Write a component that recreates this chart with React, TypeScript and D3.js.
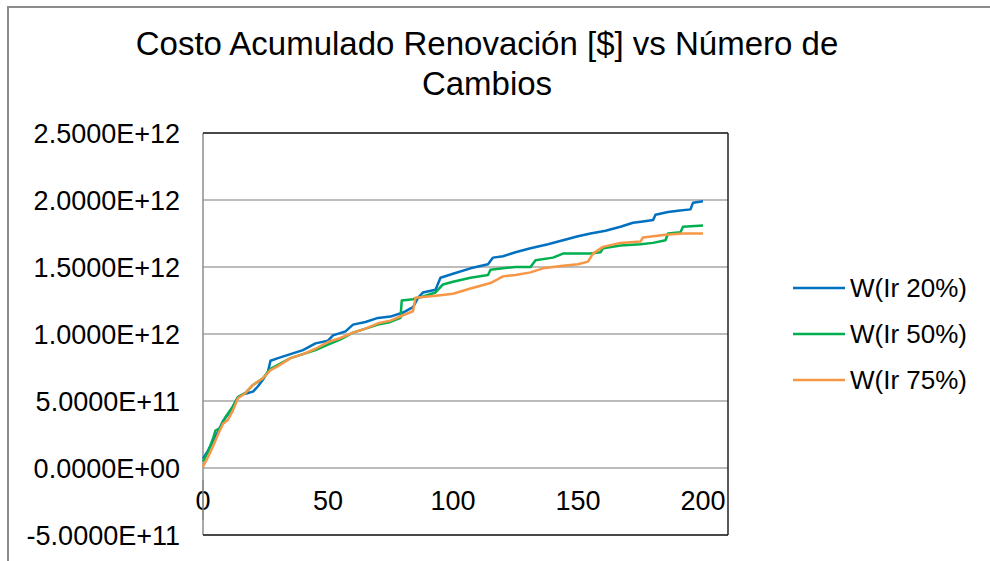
import React from "react";
import * as d3 from "d3";

const titleLines = ["Costo Acumulado Renovación [$] vs Número de", "Cambios"];
const yTicks = [-5e11, 0, 5e11, 1e12, 1.5e12, 2e12, 2.5e12];
const xTicks = [0, 50, 100, 150, 200];
const seriesNames = ["W(Ir 20%)", "W(Ir 50%)", "W(Ir 75%)"];
const seriesColors = ["#0070C0", "#00B050", "#F79646"];

// values in units of 1E11
const blue: [number, number][] = [
  [0, 0.7], [2, 1.3], [4, 2.0], [6, 2.7], [8, 3.5], [10, 4.0], [12, 4.6], [14, 5.3], [16, 5.5],
  [18, 5.6], [20, 5.7], [22, 6.1], [24, 6.6], [26, 7.2], [27, 8.0], [30, 8.2], [35, 8.5], [40, 8.8],
  [45, 9.3], [50, 9.5], [52, 9.9], [57, 10.2], [60, 10.7], [65, 10.9], [70, 11.2], [75, 11.3],
  [80, 11.6], [84, 12.0], [86, 12.7], [88, 13.1], [93, 13.3], [95, 14.2], [100, 14.5], [107, 14.9],
  [114, 15.2], [116, 15.7], [120, 15.8], [125, 16.1], [131, 16.4], [138, 16.7], [144, 17.0],
  [150, 17.3], [155, 17.5], [161, 17.7], [167, 18.0], [172, 18.3], [176, 18.4], [180, 18.5],
  [181, 18.9], [186, 19.1], [190, 19.2], [195, 19.3], [196, 19.8], [200, 19.9],
];
const green: [number, number][] = [
  [0, 0.5], [2, 1.2], [4, 2.2], [5, 2.8], [7, 3.0], [9, 3.8], [12, 4.6], [14, 5.3], [17, 5.6],
  [20, 6.2], [24, 6.7], [27, 7.4], [30, 7.7], [35, 8.2], [40, 8.5], [45, 8.8], [50, 9.2], [55, 9.6],
  [60, 10.1], [65, 10.4], [70, 10.7], [75, 10.9], [79, 11.2], [79.5, 12.5], [84, 12.6], [88, 12.8],
  [93, 13.1], [96, 13.7], [100, 13.9], [107, 14.2], [114, 14.4], [115, 14.8], [120, 14.9],
  [125, 15.0], [131, 15.0], [133, 15.5], [140, 15.7], [144, 16.0], [150, 16.0], [155, 16.0],
  [159, 16.1], [160, 16.4], [167, 16.6], [175, 16.7], [180, 16.8], [185, 17.0], [186, 17.5],
  [191, 17.6], [192, 18.0], [200, 18.1],
];
const orange: [number, number][] = [
  [0, 0.1], [2, 0.8], [4, 1.6], [6, 2.5], [8, 3.3], [10, 3.6], [12, 4.3], [14, 5.2], [17, 5.6],
  [20, 6.2], [24, 6.7], [27, 7.3], [30, 7.6], [35, 8.2], [40, 8.5], [45, 8.9], [50, 9.4], [55, 9.7],
  [60, 10.1], [65, 10.4], [70, 10.8], [75, 11.0], [80, 11.4], [84, 11.7], [85, 12.7], [90, 12.8],
  [95, 12.9], [100, 13.0], [107, 13.4], [115, 13.8], [120, 14.3], [125, 14.4], [131, 14.6],
  [136, 14.9], [140, 15.0], [144, 15.1], [150, 15.2], [154, 15.4], [156, 16.0], [160, 16.5],
  [167, 16.8], [175, 16.9], [176, 17.2], [185, 17.4], [192, 17.5], [200, 17.5],
];
const allSeries = [blue, green, orange];

const W = 990;
const H = 561;
const left = 203;
const right = 728;
const top = 133;
const bottom = 535;
const font = "'Liberation Sans', Arial, sans-serif";

export default function App() {
  const x = d3.scaleLinear().domain([0, 210]).range([left, right]);
  const y = d3.scaleLinear().domain([-5e11, 2.5e12]).range([bottom, top]);
  const line = d3
    .line<[number, number]>()
    .x((d) => x(d[0]))
    .y((d) => y(d[1] * 1e11));
  const fmt = (v: number) => {
    const s = v.toExponential(4).toUpperCase();
    return s.replace(/E([+-])(\d)$/, "E$10$2");
  };
  return (
    <svg
      width={W}
      height={H}
      style={{ position: "absolute", left: 0, top: 0, background: "#fff" }}
      fontFamily={font}
    >
      <rect x={8} y={7} width={1000} height={600} fill="#fff" stroke="#8c8c8c" strokeWidth={2} />
      {titleLines.map((t, i) => (
        <text key={i} x={487} y={55 + i * 40} textAnchor="middle" fontSize={33} fill="#000">
          {t}
        </text>
      ))}
      {yTicks.map((t) => (
        <line key={t} x1={left} x2={right} y1={y(t)} y2={y(t)} stroke="#a6a6a6" strokeWidth={1.5} />
      ))}
      <line x1={left} x2={left} y1={top} y2={bottom} stroke="#8c8c8c" strokeWidth={1.5} />
      <line x1={left} x2={right} y1={top} y2={top} stroke="#222" strokeWidth={1.5} />
      <line x1={right} x2={right} y1={top} y2={bottom} stroke="#222" strokeWidth={1.5} />
      <line x1={left} x2={right} y1={bottom} y2={bottom} stroke="#222" strokeWidth={1.5} />
      {yTicks.map((t) => (
        <text key={t} x={180} y={y(t)} dy="0.36em" textAnchor="end" fontSize={27} fill="#000">
          {fmt(t)}
        </text>
      ))}
      {xTicks.map((t) => (
        <text key={t} x={x(t)} y={510} textAnchor="middle" fontSize={27} fill="#000">
          {t}
        </text>
      ))}
      <line x1={left} x2={left} y1={480} y2={520} stroke="#8c8c8c" strokeWidth={1.5} />
      {allSeries.map((s, i) => (
        <path key={i} d={line(s) || ""} fill="none" stroke={seriesColors[i]} strokeWidth={2.5} strokeLinejoin="round" />
      ))}
      {seriesNames.map((n, i) => (
        <g key={n}>
          <line x1={793} x2={845} y1={288 + i * 46} y2={288 + i * 46} stroke={seriesColors[i]} strokeWidth={2.5} />
          <text x={850} y={288 + i * 46} dy="0.36em" fontSize={26} fill="#000">
            {n}
          </text>
        </g>
      ))}
    </svg>
  );
}
